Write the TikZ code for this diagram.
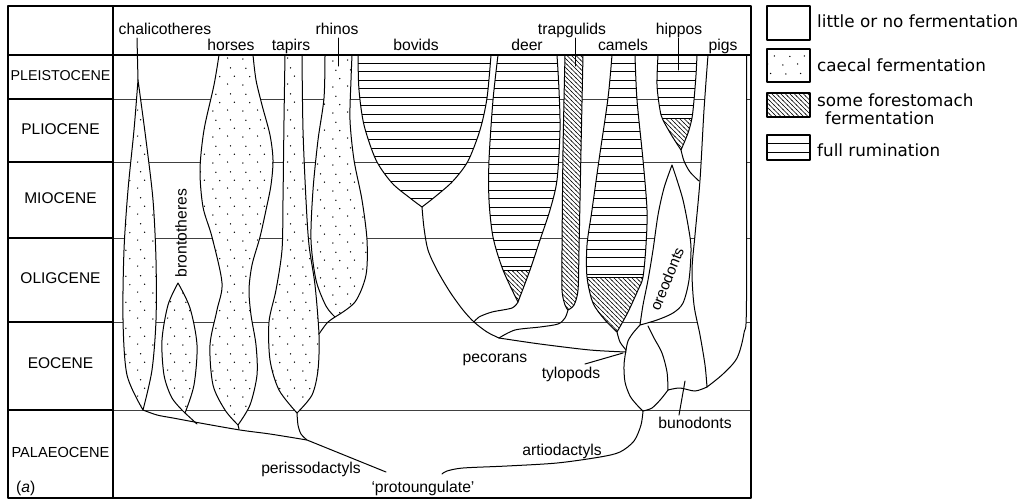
\documentclass[tikz,border=0pt]{standalone}
\usepackage{fontspec}
\setmainfont{Liberation Sans}
\newfontfamily\legfont{DejaVu Sans}
\usetikzlibrary{patterns}
\pgfdeclarepatternformonly{sdots}{\pgfqpoint{0pt}{0pt}}{\pgfqpoint{30pt}{25.5pt}}{\pgfqpoint{30pt}{25.5pt}}{%
  \pgfpathcircle{\pgfqpoint{3pt}{2pt}}{0.75pt}%
  \pgfpathcircle{\pgfqpoint{18pt}{3pt}}{0.75pt}%
  \pgfpathcircle{\pgfqpoint{10pt}{10.5pt}}{0.75pt}%
  \pgfpathcircle{\pgfqpoint{25pt}{11pt}}{0.75pt}%
  \pgfpathcircle{\pgfqpoint{6pt}{19pt}}{0.75pt}%
  \pgfpathcircle{\pgfqpoint{21pt}{19.5pt}}{0.75pt}%
  \pgfusepath{fill}}
\pgfdeclarepatternformonly{hatch}{\pgfqpoint{-1pt}{-1pt}}{\pgfqpoint{5.5pt}{5.5pt}}{\pgfqpoint{4.5pt}{4.5pt}}{%
  \pgfsetlinewidth{0.55pt}%
  \pgfpathmoveto{\pgfqpoint{-0.5pt}{5pt}}%
  \pgfpathlineto{\pgfqpoint{5pt}{-0.5pt}}%
  \pgfusepath{stroke}}
\begin{document}
\begin{tikzpicture}[x=1pt,y=-1pt,line join=round,line cap=round,
  lab/.style={font=\fontsize{15.7}{17}\selectfont,inner sep=0pt,anchor=base},
  per/.style={font=\fontsize{15.5}{17}\selectfont,inner sep=0pt},
  leg/.style={font=\legfont\fontsize{16.8}{17}\selectfont,inner sep=0pt,anchor=base west,align=left},
  outl/.style={line width=1pt},
  plin/.style={line width=0.9pt,black!75},
  hl/.style={line width=0.9pt},
  dotted fill/.style={pattern=sdots},
  hatched/.style={pattern=hatch}]
\useasboundingbox (0,0) rectangle (1025,501);
% ---------- period lines in main area
\foreach \yy in {99,162,238,322,410} \draw[plin] (113,\yy) -- (751,\yy);
% ---------- shape paths
\def\chalP{plot[smooth] coordinates {(138,80) (134,130) (128,190) (124,250) (123,320) (127,375) (143,410)} -- plot[smooth] coordinates {(143,410) (152,370) (156,320) (156,260) (153,200) (146,140) (138,80)} -- cycle}
\def\bronP{plot[smooth] coordinates {(178,283) (168,305) (162,340) (164,375) (172,398) (185,413)} -- plot[smooth] coordinates {(185,413) (194,385) (197,345) (190,308) (178,283)} -- cycle}
\def\horseP{plot[smooth] coordinates {(219,55) (214,85) (204,130) (200,170) (203,207) (212,237) (222,283) (217,310) (210,345) (213,385) (225,410) (238,425)} -- plot[smooth] coordinates {(238,425) (250,405) (257,375) (256,345) (251,315) (249,290) (252,265) (260,237) (266,210) (271,185) (273,160) (270,135) (262,105) (256,80) (253,55)} -- cycle}
\def\tapirP{plot[smooth] coordinates {(285,55) (284,120) (283,200) (282,250) (276,290) (269,322) (270,360) (279,390) (297,413)} -- plot[smooth] coordinates {(297,413) (312,395) (318,370) (319,335) (315,285) (309,245) (306,200) (303,130) (302,55)} -- cycle}
\def\rhinoP{plot[smooth] coordinates {(325,55) (324,98) (318,140) (313,190) (311,240) (316,280) (326,306) (335,317)} -- plot[smooth] coordinates {(335,317) (355,302) (366,275) (367,240) (362,200) (354,160) (350,120) (351,80) (352,55)} -- cycle}
\def\bovP{plot[smooth] coordinates {(358,55) (359,90) (364,125) (376,160) (392,183) (410,198) (422,207)} -- plot[smooth] coordinates {(422,207) (436,196) (453,181) (468,161) (480,130) (487,98) (491,55)} -- cycle}
\def\deerP{plot[smooth] coordinates {(498,55) (493,100) (489,160) (489,200) (493,237) (503,270) (518,302)} -- plot[smooth] coordinates {(518,302) (530,270) (540,240) (550,210) (557,180) (560,130) (559,90) (557,55)} -- cycle}
\def\trapP{plot[smooth] coordinates {(565,55) (563,150) (562,250) (562,290) (565,305) (568,310)} -- plot[smooth] coordinates {(568,310) (574,305) (578,290) (579,250) (581,150) (583,55)} -- cycle}
\def\camelP{plot[smooth] coordinates {(612,55) (608,98) (599,160) (592,210) (587,245) (587,277) (593,303) (605,320) (617,332)} -- plot[smooth] coordinates {(617,332) (628,312) (638,290) (643,277) (646,245) (647,210) (643,160) (637,100) (635,55)} -- cycle}
\def\hippoP{plot[smooth] coordinates {(658,55) (657,85) (660,110) (663,120) (672,136) (681,150)} -- plot[smooth] coordinates {(681,150) (688,133) (692,118) (694,100) (696,75) (697,55)} -- cycle}
\def\pigP{plot[smooth] coordinates {(708,55) (704,110) (700,180) (695,235) (692,270) (694,305) (700,335) (705,365) (707,387)} -- plot[smooth] coordinates {(707,387) (723,374) (737,358) (744,333) (746.5,300) (746.5,55)} -- cycle}
\def\oreoP{plot[smooth] coordinates {(672,165) (664,188) (658,215) (653,250) (648,280) (643,305) (640,325)} -- plot[smooth] coordinates {(640,325) (657,320) (673,313) (683,303) (689,280) (691,248) (688,225) (683,200) (677,180) (672,165)} -- cycle}
% ---------- dotted shapes
\foreach \P in {\chalP,\bronP,\horseP,\tapirP,\rhinoP}{
  \fill[white] \P;
  \fill[dotted fill] \P;
  \draw[outl] \P;
}
% ---------- plain shapes
\fill[white] \pigP; \draw[outl] \pigP;
\fill[white] \oreoP; \draw[outl] \oreoP;
% ---------- bovids (full rumination)
\fill[white] \bovP;
\begin{scope}\clip \bovP;
  \foreach \k in {1,...,20} \draw[hl] (350,{55+8.45*\k}) -- (500,{55+8.45*\k});
\end{scope}
\draw[outl] \bovP;
% ---------- deer
\fill[white] \deerP;
\begin{scope}\clip \deerP; \clip (480,0) rectangle (570,268);
  \foreach \k in {1,...,30} \draw[hl] (480,{55+8.45*\k}) -- (570,{55+8.45*\k});
\end{scope}
\begin{scope}\clip \deerP;
  \fill[hatched] (480,270) rectangle (570,310);
  \draw[hl] (480,270) -- (570,270);
\end{scope}
\draw[outl] \deerP;
% ---------- trapgulids
\fill[white] \trapP; \fill[hatched] \trapP; \draw[outl] \trapP;
% ---------- camels
\fill[white] \camelP;
\begin{scope}\clip \camelP; \clip (580,0) rectangle (660,275);
  \foreach \k in {1,...,30} \draw[hl] (580,{55+8.45*\k}) -- (660,{55+8.45*\k});
\end{scope}
\begin{scope}\clip \camelP;
  \fill[hatched] (580,277) rectangle (660,340);
  \draw[hl] (580,277) -- (660,277);
\end{scope}
\draw[outl] \camelP;
% ---------- hippos
\fill[white] \hippoP;
\begin{scope}\clip \hippoP; \clip (650,0) rectangle (700,116);
  \foreach \k in {1,...,8} \draw[hl] (650,{55+8.45*\k}) -- (700,{55+8.45*\k});
\end{scope}
\begin{scope}\clip \hippoP;
  \fill[hatched] (650,118) rectangle (700,155);
  \draw[hl] (650,118) -- (700,118);
\end{scope}
\draw[outl] \hippoP;
% ---------- stems and branches
\draw[outl] plot[smooth] coordinates {(143,410) (157,415) (173,418) (200,423) (240,430) (270,434) (307,440)} -- (386,472);
\draw[outl] (185,413) -- (197,424);
\draw[outl] (238,425) -- (239,429);
\draw[outl] plot[smooth] coordinates {(297,413) (298,425) (301,434) (307,440)};
\draw[outl] plot[smooth] coordinates {(335,317) (327,323) (319,334)};
\draw[outl] plot[smooth] coordinates {(422,207) (424,228) (428,250) (437,270) (450,292) (463,310) (474,322) (487,332) (499,338)};
\draw[outl] plot[smooth] coordinates {(518,302) (512,308) (492,312) (479,317) (474,322)};
\draw[outl] plot[smooth] coordinates {(568,310) (565,318) (558,324) (540,327) (515,330) (499,338)};
\draw[outl] plot[smooth] coordinates {(499,338) (540,344) (590,350) (626,352)};
\draw[outl] plot[smooth] coordinates {(617,332) (620,342) (626,350)};
\draw[outl] plot[smooth] coordinates {(640,325) (633,333) (628,341) (626,350)};
\draw[outl] plot[smooth] coordinates {(626,350) (624,365) (625,382) (630,396) (637,405) (643,411)};
\draw[outl] plot[smooth] coordinates {(643,411) (652,408) (661,399) (668,390)};
\draw[outl] plot[smooth] coordinates {(668,390) (667,372) (662,353) (654,338) (648,326)};
\draw[outl] plot[smooth] coordinates {(668,390) (680,388) (695,391) (707,387)};
\draw[outl] plot[smooth] coordinates {(681,150) (684,161) (690,172) (699,181)};
\draw[outl] plot[smooth] coordinates {(643,411) (641,425) (634,441) (620,452) (600,457) (557,463) (507,466) (463,468) (447,471) (442,474)};
\draw[outl] (685,381) -- (679,415);
\draw[outl] (585,364) -- (623,353);
% ---------- label ticks
\draw[outl] (137,38) -- (138,80);
\draw[outl] (338,38) -- (338,66);
\draw[outl] (575,38) -- (575,66);
\draw[outl] (678,38) -- (678,70);
% ---------- frame
\draw[line width=1.3pt] (8,55) -- (751,55);
\foreach \yy in {99,162,238,322,410} \draw[line width=1.3pt] (8,\yy) -- (113,\yy);
\draw[line width=1.5pt] (113,6) -- (113,498);
\draw[line width=1.8pt] (8,6) rectangle (751,498);
% ---------- period labels
\node[per] (pleis) at (60.5,76) {\fontsize{14.3}{16}\selectfont PLEISTOCENE};
\node[per] (plio) at (60.5,129) {PLIOCENE};
\node[per] (mio) at (60.5,198) {MIOCENE};
\node[per] (olig) at (60.5,278) {OLIGCENE};
\node[per] (eoc) at (60.5,363) {EOCENE};
\node[per] (palaeo) at (60.5,452) {\fontsize{14.6}{16}\selectfont PALAEOCENE};
\node[lab,anchor=base west] (panel) at (16,492) {(\textit{a})};
% ---------- taxon labels
\node[lab] (chal) at (165,34.5) {chalicotheres};
\node[lab] (horses) at (231,50) {horses};
\node[lab] (tapirs) at (291,50) {tapirs};
\node[lab] (rhinos) at (337,34.5) {rhinos};
\node[lab] (bovids) at (416,50) {bovids};
\node[lab] (deer) at (527,50) {deer};
\node[lab] (trap) at (572,34.5) {trapgulids};
\node[lab] (camels) at (623,50) {camels};
\node[lab] (hippos) at (679,34.5) {hippos};
\node[lab] (pigs) at (723,50) {pigs};
\node[lab,anchor=center,rotate=90] (bronto) at (181,233) {brontotheres};
\node[lab,anchor=center,rotate=68,font=\fontsize{15}{17}\selectfont] (oreo) at (667,279) {oreodonts};
\node[lab] (peri) at (311,473) {perissodactyls};
\node[lab] (proto) at (423,492.5) {‘protoungulate’};
\node[lab] (artio) at (562,455) {artiodactyls};
\node[lab] (pecor) at (495,362.5) {pecorans};
\node[lab] (tylo) at (571,378) {tylopods};
\node[lab] (buno) at (695,428) {bunodonts};
% ---------- legend
\draw[line width=1.3pt] (767,6) rectangle (810,40);
\fill[white] (767,49) rectangle (810,82);
\fill[dotted fill] (767,49) rectangle (810,82);
\draw[line width=1.3pt] (767,49) rectangle (810,82);
\fill[hatched] (767,93) rectangle (810,117);
\draw[line width=1.3pt] (767,93) rectangle (810,117);
\draw[hl] (767,143.5) -- (810,143.5);
\draw[hl] (767,152) -- (810,152);
\draw[line width=1.3pt] (767,135) rectangle (810,160);
\node[leg] (l1) at (817,27.5) {little or no fermentation};
\node[leg] (l2) at (817,71.5) {caecal fermentation};
\node[leg] (l3) at (817,106.5) {some forestomach};
\node[leg] (l3b) at (825,124) {fermentation};
\node[leg] (l4) at (817,156.5) {full rumination};
\end{tikzpicture}
\end{document}
